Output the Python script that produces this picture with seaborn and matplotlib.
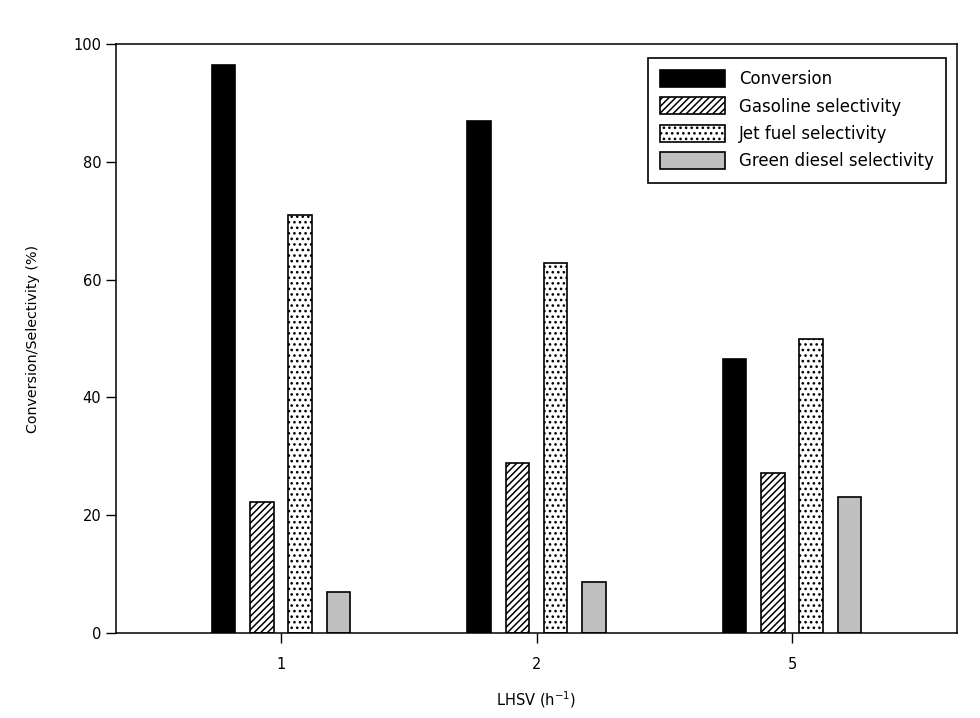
import matplotlib
matplotlib.use("Agg")
import matplotlib.pyplot as plt
import seaborn as sns
import pandas as pd
from matplotlib.patches import Patch

# ---- data ----
lhsv = ["1", "2", "5"]
series = ["Conversion", "Gasoline selectivity", "Jet fuel selectivity", "Green diesel selectivity"]
conversion = [96.5, 87.0, 46.6]
gasoline = [22.2, 28.8, 27.2]
jet_fuel = [71.0, 62.8, 49.9]
green_diesel = [6.9, 8.6, 23.1]
y_ticks = [0, 20, 40, 60, 80, 100]

df = pd.DataFrame({
    "LHSV": lhsv * 4,
    "Series": [s for s in series for _ in lhsv],
    "Value": conversion + gasoline + jet_fuel + green_diesel,
})

sns.set_style("ticks")
plt.rcParams['font.family'] = ['DejaVu Sans']
plt.rcParams['hatch.linewidth'] = 1.1
plt.rcParams['text.color'] = 'black'
plt.rcParams['axes.labelcolor'] = 'black'

fig = plt.figure(figsize=(9.8, 7.18), dpi=100)
ax = fig.add_axes([0.1184, 0.1184, 0.8582, 0.8203])

facecolors = {
    "Conversion": "black",
    "Gasoline selectivity": "white",
    "Jet fuel selectivity": "white",
    "Green diesel selectivity": "#c0c0c0",
}
hatches = ["", "/////", "...", ""]

sns.barplot(data=df, x="LHSV", y="Value", hue="Series", order=lhsv, hue_order=series,
            palette=facecolors, width=0.6, gap=0.387, edgecolor="black", linewidth=1.2,
            saturation=1, legend=False, ax=ax)

for container, h in zip(ax.containers, hatches):
    for bar in container:
        bar.set_hatch(h)

ax.set_xlim(-0.646, 2.646)
ax.set_ylim(0, 100)
ax.set_yticks(y_ticks)

for sp in ax.spines.values():
    sp.set_visible(True)
    sp.set_linewidth(1.1)
    sp.set_color("black")

ax.tick_params(axis="both", direction="out", length=7, width=1.0, labelsize=10.5,
               colors="black", labelcolor="black")
ax.tick_params(axis="x", pad=10)
ax.tick_params(axis="y", pad=3.6)

ax.set_xlabel("LHSV (h$^{-1}$)", fontsize=10.5, labelpad=13)
ax.set_ylabel("Conversion/Selectivity (%)", fontsize=10.3, labelpad=24)

handles = [Patch(facecolor=facecolors[s], edgecolor="black", hatch=h, linewidth=1.2)
           for s, h in zip(series, hatches)]
leg = ax.legend(handles, series, loc="upper right", bbox_to_anchor=(0.987, 0.977),
                borderaxespad=0, frameon=True, fancybox=False, framealpha=1,
                edgecolor="black", fontsize=12, handlelength=3.9, handleheight=1.2,
                handletextpad=0.8, labelspacing=0.55, borderpad=0.75)
leg.get_frame().set_linewidth(1.2)
for t in leg.get_texts():
    t.set_color("black")

fig.savefig("out.png", dpi=100)
